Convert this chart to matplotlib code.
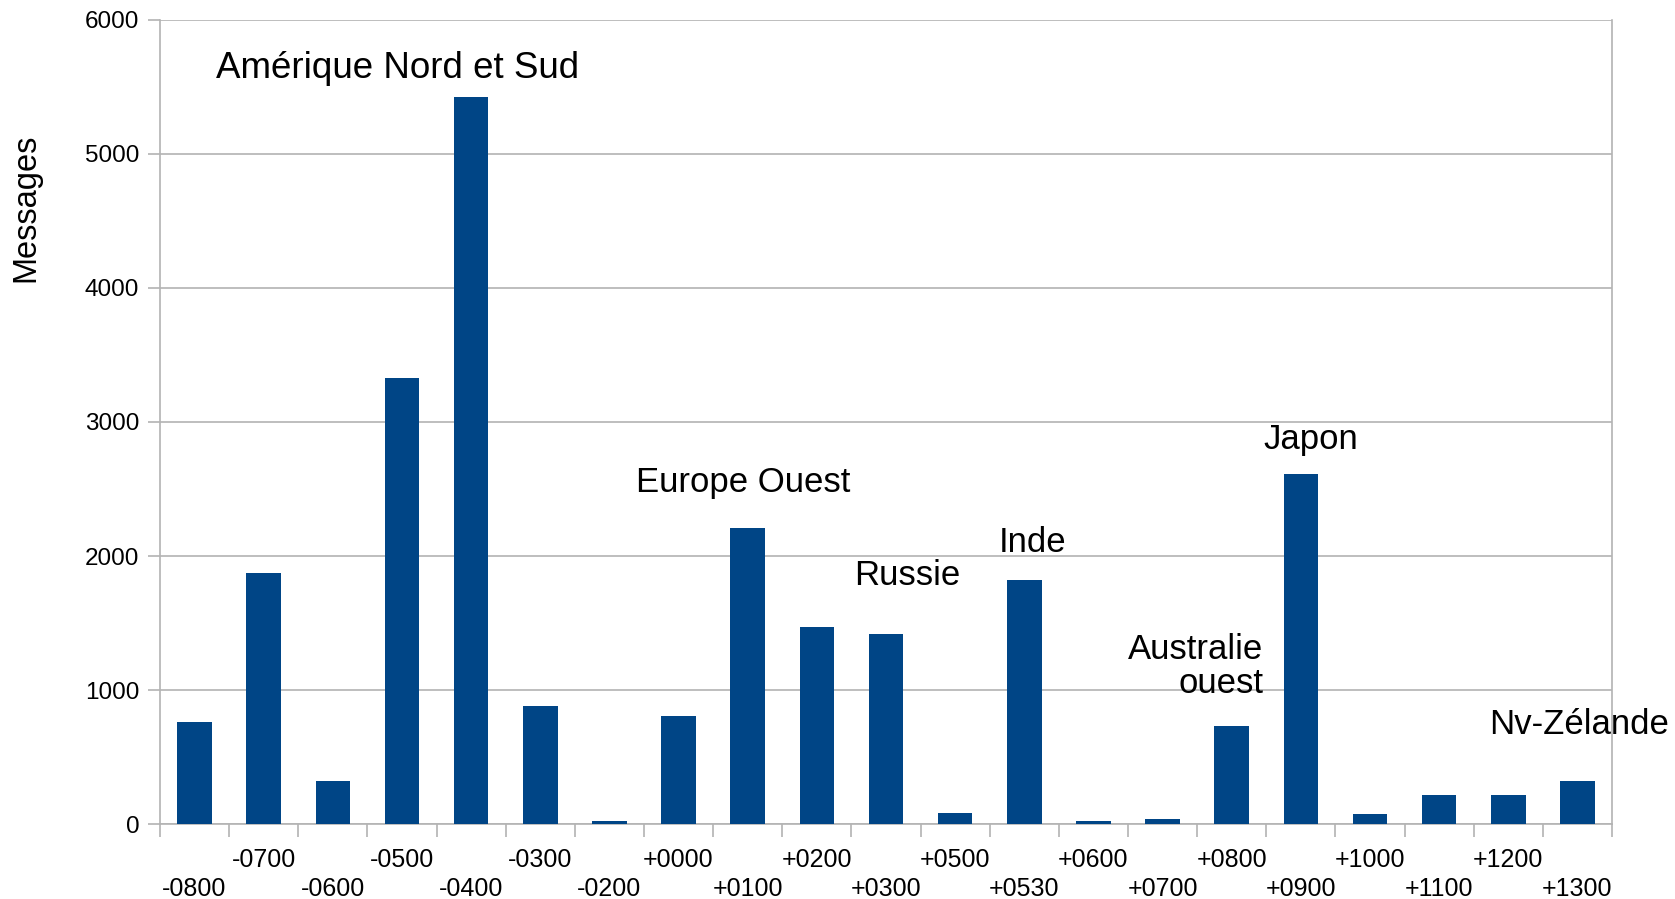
import numpy as np
import matplotlib.pyplot as plt

plt.rcParams['font.family'] = ['Liberation Sans', 'DejaVu Sans']

# fuseaux horaires et nombre de messages
zones = ['-0800', '-0700', '-0600', '-0500', '-0400', '-0300', '-0200',
         '+0000', '+0100', '+0200', '+0300', '+0500', '+0530', '+0600',
         '+0700', '+0800', '+0900', '+1000', '+1100', '+1200', '+1300']
messages = [765, 1870, 320, 3326, 5427, 883, 20,
            804, 2212, 1472, 1416, 79, 1822, 25,
            40, 732, 2610, 72, 214, 214, 323]

# annotations des regions (position x en index de categorie, y en messages)
region_names = ['Amérique Nord et Sud', 'Europe Ouest', 'Russie', 'Inde',
                'Australie\nouest', 'Japon', 'Nv-Zélande']
region_x = [2.93, 7.93, 10.31, 12.12, 15.46, 16.14, 20.03]
region_y = [5635, 2545, 1858, 2102, 1176, 2866, 744]
region_ha = ['center', 'center', 'center', 'center', 'right', 'center', 'center']

bar_color = '#004586'
grid_color = '#b3b3b3'

fig = plt.figure(figsize=(16.75, 8.99), dpi=100)
ax = fig.add_axes([0.0955, 0.0834, 0.8669, 0.8944])

x = np.arange(len(zones))
ax.bar(x, messages, width=0.5, color=bar_color, zorder=3)

ax.set_xlim(-0.5, len(zones) - 0.5)
ax.set_ylim(0, 6000)
ax.set_yticks(np.arange(0, 6001, 1000))
ax.yaxis.grid(True, color=grid_color, linewidth=1.2, zorder=0)
ax.set_axisbelow(True)

# libelles en quinconce : index pair sur la ligne du bas
labels = [z if i % 2 else '\n' + z for i, z in enumerate(zones)]
ax.set_xticks(x)
ax.set_xticklabels(labels, linespacing=1.28)
ax.set_xticks(np.arange(-0.5, len(zones), 1.0), minor=True)
ax.tick_params(axis='x', which='major', length=0, pad=17, labelsize=18)
ax.tick_params(axis='x', which='minor', length=9, width=1.2, color=grid_color)
ax.tick_params(axis='y', length=9, width=1.2, color=grid_color, pad=6, labelsize=17.5)

for side in ['left', 'bottom', 'right']:
    ax.spines[side].set_color(grid_color)
    ax.spines[side].set_linewidth(1.2)
ax.spines['top'].set_visible(False)

ax.set_ylabel('Messages', fontsize=23.5)
ax.yaxis.set_label_coords(-0.082, 0.766)

for i, (name, rx, ry, ha) in enumerate(zip(region_names, region_x, region_y, region_ha)):
    size = 26.5 if i == 0 else 25
    ax.text(rx, ry, name, fontsize=size, ha=ha, va='center', clip_on=False,
            linespacing=1.05)

fig.savefig('out.png', dpi=100)
